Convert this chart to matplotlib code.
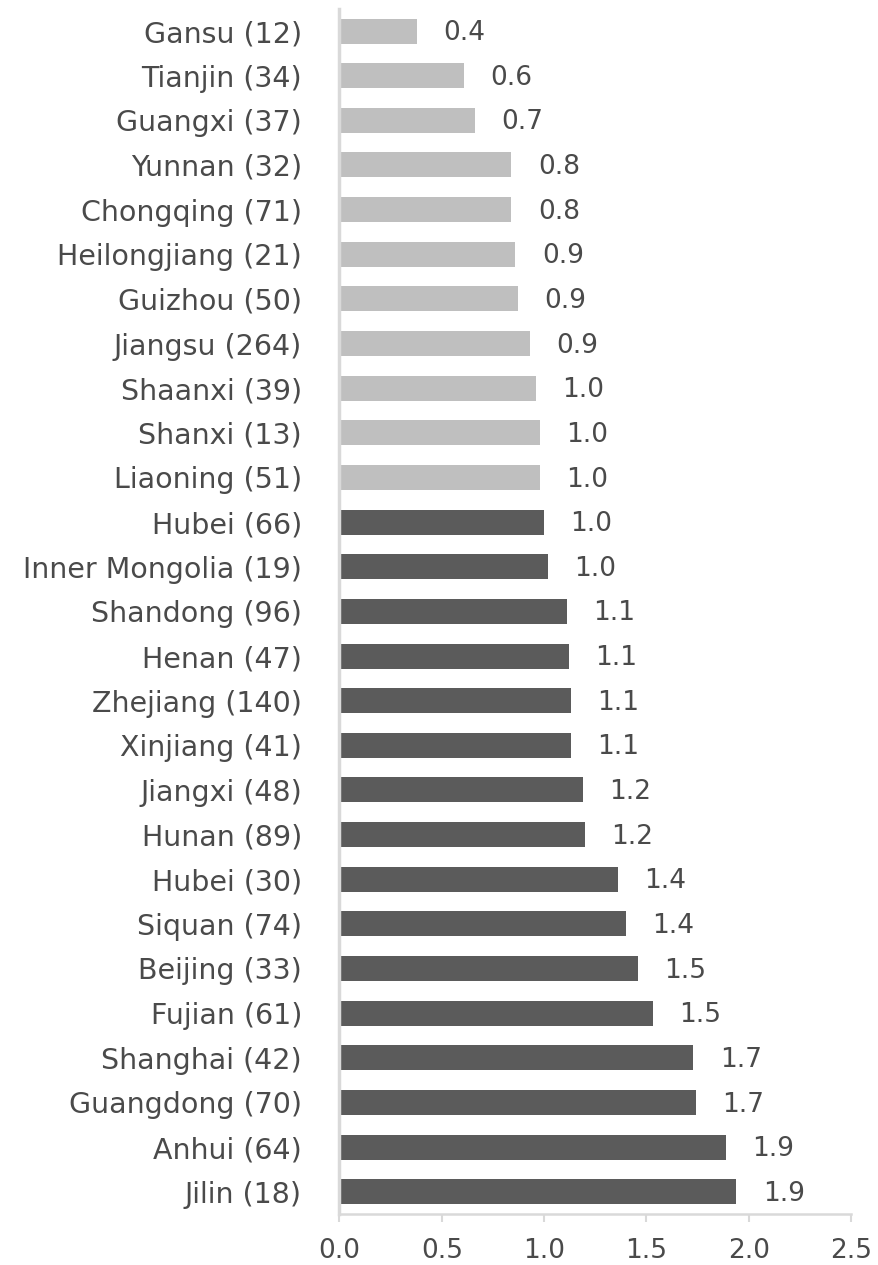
import matplotlib
matplotlib.use("Agg")
import matplotlib.pyplot as plt
import numpy as np

provinces = ["Gansu (12)", "Tianjin (34)", "Guangxi (37)", "Yunnan (32)",
             "Chongqing (71)", "Heilongjiang (21)", "Guizhou (50)",
             "Jiangsu (264)", "Shaanxi (39)", "Shanxi (13)", "Liaoning (51)",
             "Hubei (66)", "Inner Mongolia (19)", "Shandong (96)",
             "Henan (47)", "Zhejiang (140)", "Xinjiang (41)", "Jiangxi (48)",
             "Hunan (89)", "Hubei (30)", "Siquan (74)", "Beijing (33)",
             "Fujian (61)", "Shanghai (42)", "Guangdong (70)", "Anhui (64)",
             "Jilin (18)"]
values = [0.38, 0.61, 0.66, 0.84, 0.84, 0.86, 0.87, 0.93, 0.96, 0.98, 0.98,
          1.00, 1.02, 1.11, 1.12, 1.13, 1.13, 1.19, 1.20, 1.36, 1.40, 1.46,
          1.53, 1.73, 1.74, 1.89, 1.94]
# first 11 provinces are drawn in light grey
n_light = 11
xticks = [0.0, 0.5, 1.0, 1.5, 2.0, 2.5]

txt = "#4a4a4a"
axis_col = "#d9d9d9"
plt.rcParams['font.family'] = ['DejaVu Sans']

fig = plt.figure(figsize=(8.79, 12.65), dpi=100)
ax = fig.add_axes([339.5 / 879, 0.0403, 1 - 339.5 / 879 - 28 / 879, 0.9528])

y = np.arange(len(provinces))
colors = ["#bfbfbf" if i < n_light else "#5b5b5b" for i in range(len(provinces))]
ax.barh(y, values, height=0.56, color=colors)

for yi, v in zip(y, values):
    ax.annotate(f"{v:.1f}", (v, yi), xytext=(19, -1.5), textcoords="offset points",
                ha="left", va="center", fontsize=19, color=txt)

ax.set_ylim(len(provinces) - 0.5, -0.5)
ax.set_xlim(0, 2.5)
ax.set_yticks(y)
ax.set_yticklabels(provinces)
ax.set_xticks(xticks)
ax.set_xticklabels([f"{t:.1f}" for t in xticks])

ax.tick_params(axis="y", length=0, pad=27, labelsize=20.5, labelcolor=txt)
ax.tick_params(axis="x", length=6, width=1.5, color=axis_col, pad=11,
               labelsize=19, labelcolor=txt)

for s in ["top", "right"]:
    ax.spines[s].set_visible(False)
ax.spines["left"].set_color(axis_col)
ax.spines["left"].set_linewidth(2.5)
ax.spines["bottom"].set_color(axis_col)
ax.spines["bottom"].set_linewidth(1.8)

fig.savefig("out.png", dpi=100)
